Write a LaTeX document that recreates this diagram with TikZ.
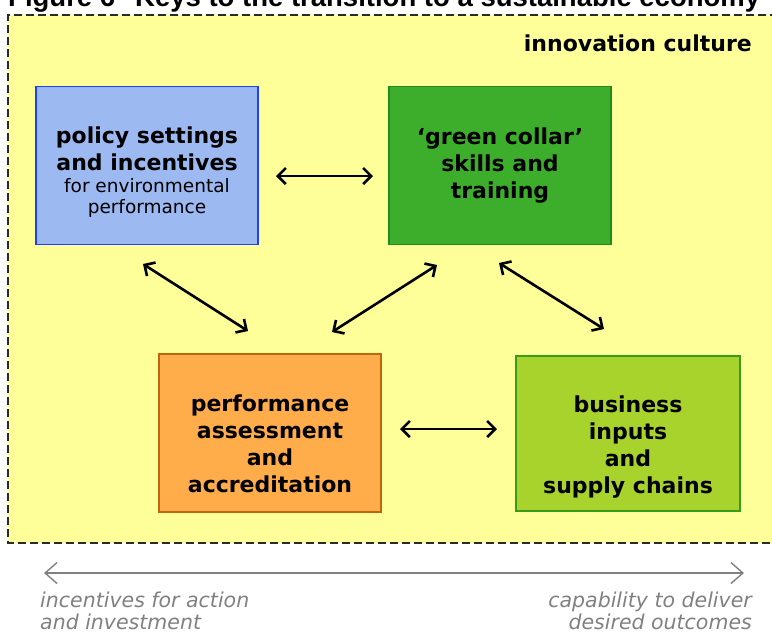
\documentclass[tikz,border=0pt]{standalone}
\usepackage{fontspec}
\setmainfont{DejaVu Sans}
\newfontfamily\titlefont{Liberation Sans}
\usetikzlibrary{arrows.meta}
\definecolor{yel}{HTML}{FFFF99}
\definecolor{bluefill}{HTML}{9DB9F2}
\definecolor{blueline}{HTML}{1F3FFF}
\definecolor{greenfill}{HTML}{3DAE2B}
\definecolor{greenline}{HTML}{1E8C1E}
\definecolor{orangefill}{HTML}{FFAC4A}
\definecolor{orangeline}{HTML}{C0650F}
\definecolor{limefill}{HTML}{A8D22C}
\definecolor{limeline}{HTML}{3A9A1C}
\definecolor{txtgray}{HTML}{808080}
\definecolor{dashgray}{HTML}{2A2A2A}
\begin{document}
\begin{tikzpicture}[x=1pt,y=-1pt,
  boxstyle/.style={draw, line width=1.2pt, minimum width=222pt, minimum height=158pt, inner sep=0pt},
  boxtext/.style={inner sep=0pt, align=center, anchor=base, font=\fontsize{22}{26.7}\selectfont\bfseries},
  dblarrow/.style={{Straight Barb[length=8pt,width=16pt]}-{Straight Barb[length=8pt,width=16pt]},
    line width=2.6pt, black},
  grayarrow/.style={{Straight Barb[length=12pt,width=21pt]}-{Straight Barb[length=12pt,width=21pt]},
    line width=1.4pt, txtgray},
  graytext/.style={inner sep=0pt, text=txtgray, font=\itshape\fontsize{20.5}{22}\selectfont}
]
\useasboundingbox (0,0) rectangle (772,633);
% title (cut off by the page edge)
\node[anchor=base west, inner sep=0pt, font=\titlefont\bfseries\fontsize{27.5}{30}\selectfont] (title)
  at (8,6.5) {\makebox[127pt][l]{Figure 6}Keys to the transition to a sustainable economy};
% innovation culture area
\path[fill=yel] (8,15) rectangle (790,543);
\draw[dashgray, line width=1.3pt, dash pattern=on 8pt off 4pt] (790,15) -- (8,15) -- (8,543) -- (790,543);
\node[anchor=base east, inner sep=0pt, font=\bfseries\fontsize{22}{24}\selectfont] (culture)
  at (752,51) {innovation culture};
% boxes
\node[boxstyle, draw=blueline, fill=bluefill] (policy) at (147,165.5) {};
\node[boxstyle, draw=greenline, fill=greenfill] (skills) at (500,165.5) {};
\node[boxstyle, draw=orangeline, fill=orangefill] (assess) at (270,433) {};
\node[boxstyle, draw=limeline, fill=limefill, minimum width=224pt, minimum height=155pt] (business) at (628,433.5) {};
% box texts (anchor = baseline of the last line)
\node[boxtext] (policytext) at (147,213)
  {policy settings\\and incentives\\[-4.5pt]\mdseries\fontsize{18.5}{22}\selectfont for environmental\\[-6pt]\mdseries\fontsize{18.5}{22}\selectfont performance};
\node[boxtext] (skillstext) at (500,198) {`green collar'\\skills and\\training};
\node[boxtext] (assesstext) at (270,492) {performance\\assessment\\and\\accreditation};
\node[boxtext] (businesstext) at (628,493) {business\\inputs\\and\\supply chains};
% arrow ends
\coordinate (h1a) at (276,176);
\coordinate (h1b) at (373,176);
\coordinate (h2a) at (400,429);
\coordinate (h2b) at (497,429);
\coordinate (d1a) at (143,264);
\coordinate (d1b) at (248,331);
\coordinate (d2a) at (437,265);
\coordinate (d2b) at (332,332);
\coordinate (d3a) at (499,263);
\coordinate (d3b) at (604,329);
\draw[dblarrow] (h1a) -- (h1b);
\draw[dblarrow] (h2a) -- (h2b);
\draw[dblarrow] (d1a) -- (d1b);
\draw[dblarrow] (d2a) -- (d2b);
\draw[dblarrow] (d3a) -- (d3b);
% bottom scale
\coordinate (g1) at (44,573);
\coordinate (g2) at (744,573);
\draw[grayarrow] (g1) -- (g2);
\node[graytext, anchor=base west, align=left] (left) at (40,629)
  {incentives for action\\and investment};
\node[graytext, anchor=base east, align=right] (right) at (752,629)
  {capability to deliver\\desired outcomes};
\end{tikzpicture}
\end{document}
